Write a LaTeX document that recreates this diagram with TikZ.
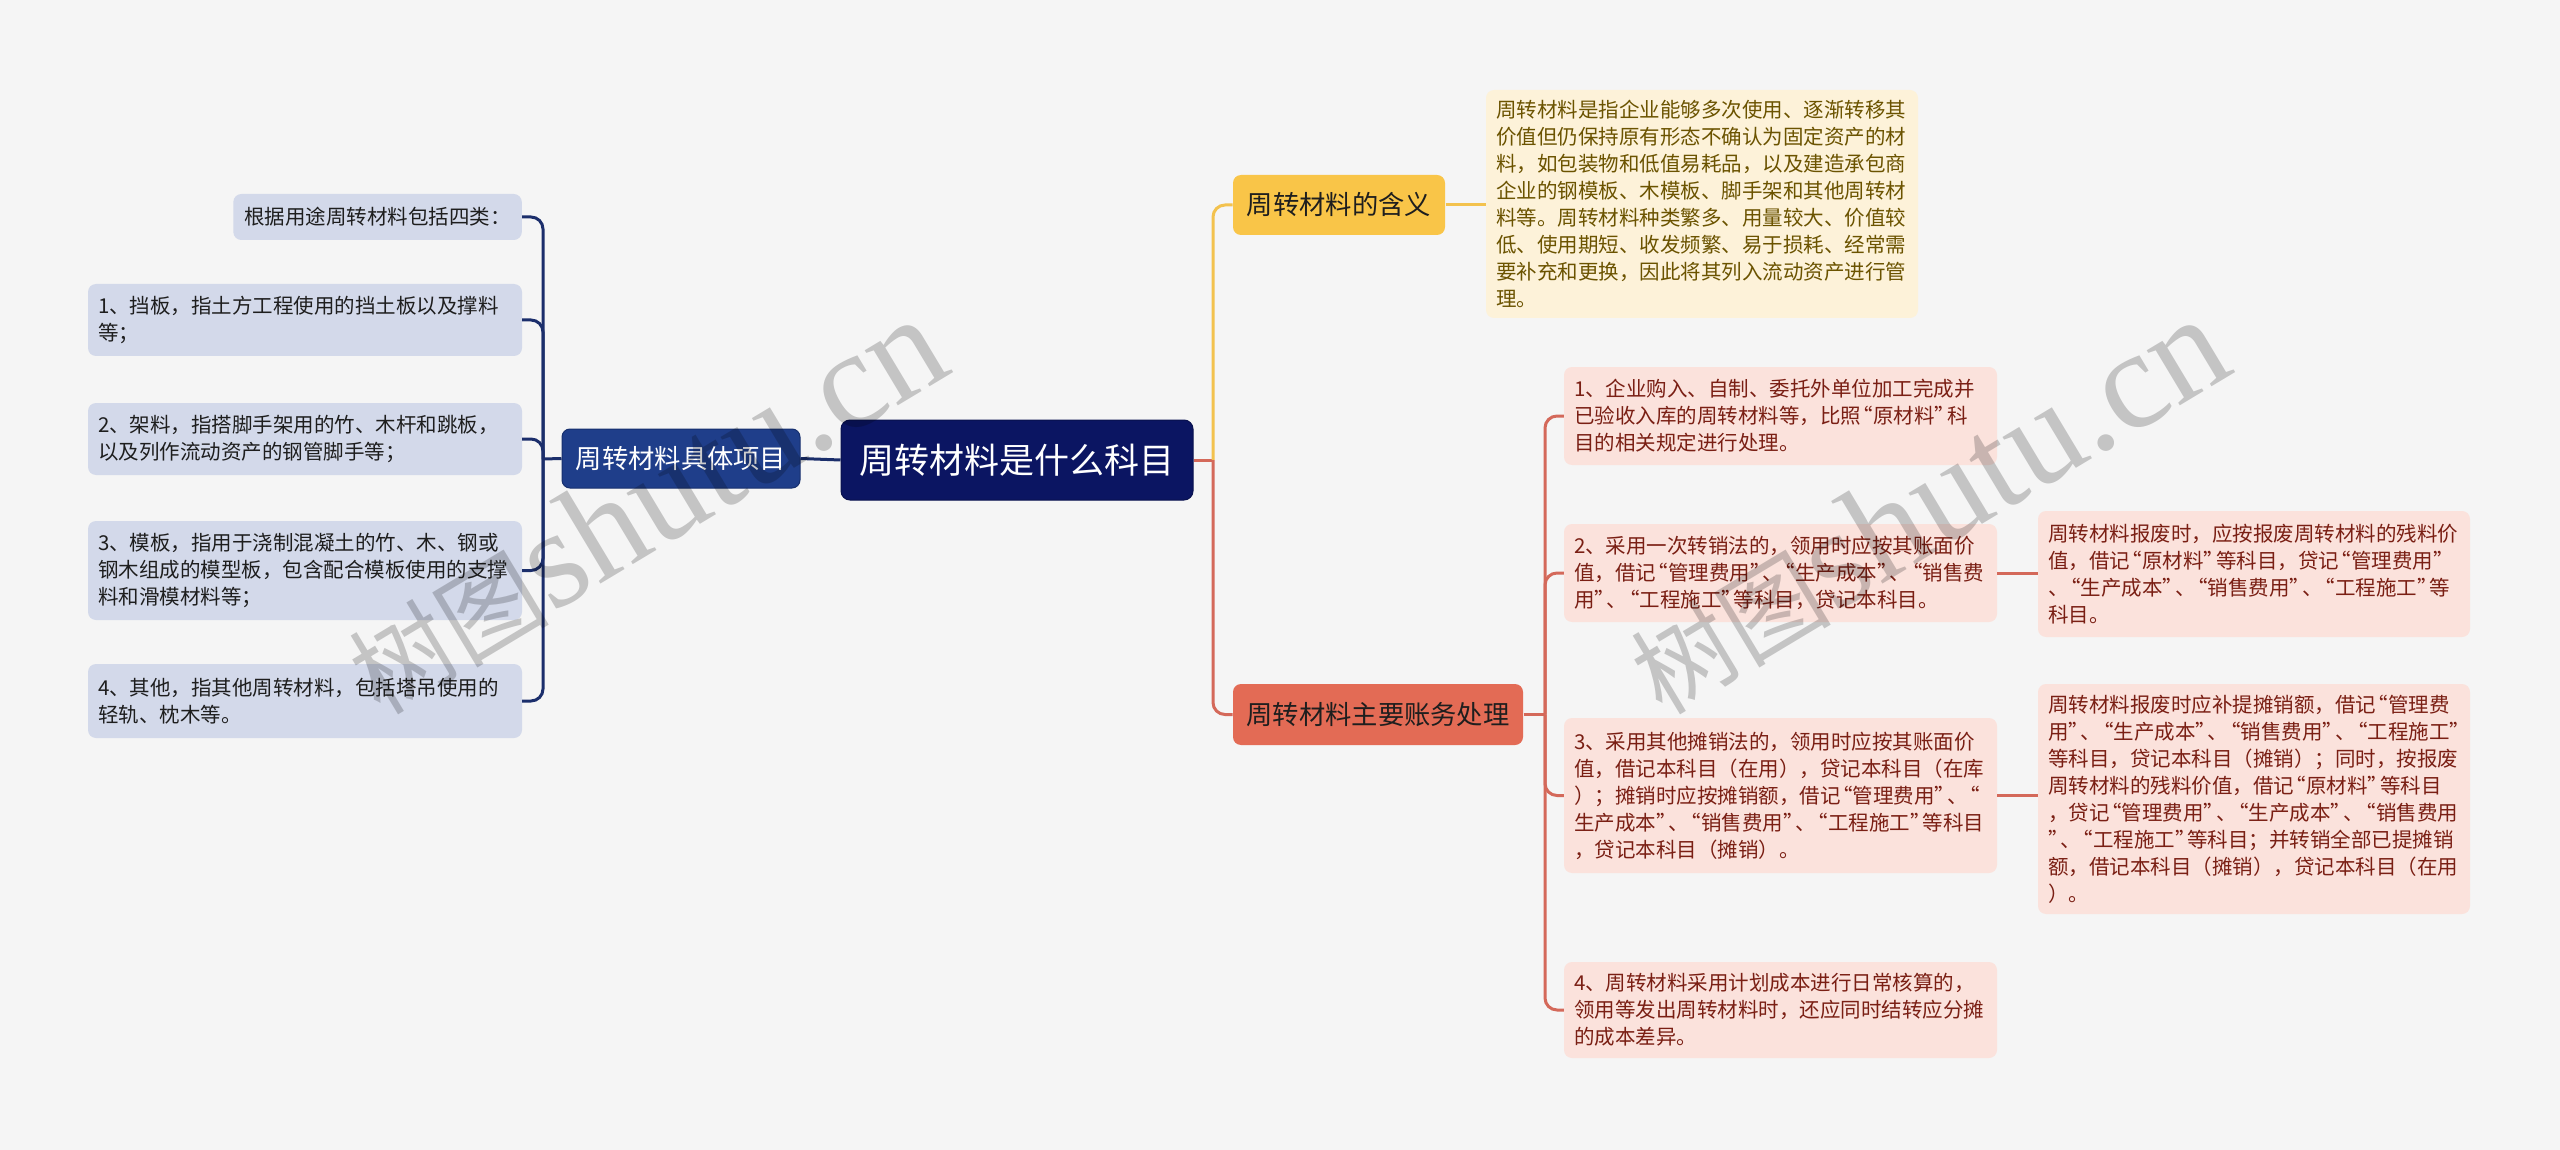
\documentclass[tikz,border=0pt]{standalone}
\usepackage{fontspec}
\setmainfont{Noto Sans CJK SC}
\newfontfamily\wmlatin{Liberation Serif}
\newfontfamily\wmcjk{Noto Sans CJK SC}
\usetikzlibrary{positioning}
\definecolor{bgc}{HTML}{F5F5F5}
\definecolor{rootc}{HTML}{0B1562}
\definecolor{subc}{HTML}{1F3E8A}
\definecolor{subborder}{HTML}{17306E}
\definecolor{navyline}{HTML}{1B2E6B}
\definecolor{lfill}{HTML}{D3D9EA}
\definecolor{ltext}{HTML}{1E1E1E}
\definecolor{yfill}{HTML}{F9C548}
\definecolor{yline}{HTML}{F3C24E}
\definecolor{dfill}{HTML}{FDF2D9}
\definecolor{dtext}{HTML}{6B5300}
\definecolor{rfill}{HTML}{E36B55}
\definecolor{rline}{HTML}{D4695A}
\definecolor{rlfill}{HTML}{FBE2DC}
\definecolor{rtext}{HTML}{7A1F14}
\newcommand{\qo}{\makebox[0.6em][r]{“}}
\newcommand{\qc}{\makebox[0.6em][l]{”}}
\begin{document}
\begin{tikzpicture}[x=1pt,y=-1pt,
  rootbox/.style={rectangle, rounded corners=9, fill=rootc, draw=rootc!80!black, line width=1, text=white,
    font=\fontsize{35}{40}\selectfont, minimum width=352, minimum height=80, inner sep=0},
  subbox/.style={rectangle, rounded corners=8, line width=1, font=\fontsize{26.3}{30}\selectfont, inner sep=0},
  leafbox/.style={rectangle, rounded corners=8, font=\fontsize{20.5}{27}\selectfont, align=left,
    inner xsep=10, inner ysep=0},
  leafL/.style={leafbox, fill=lfill, text=ltext, text width=414},
  leafR/.style={leafbox, fill=rlfill, text=rtext, text width=413},
  descbox/.style={leafbox, fill=dfill, text=dtext, text width=412},
  navy/.style={draw=navyline, line width=3},
  yel/.style={draw=yline, line width=3},
  red/.style={draw=rline, line width=3},
  wm/.style={text=black, opacity=0.2, rotate=31}
]
\fill[bgc] (0,0) rectangle (2560,1150);
\useasboundingbox (0,0) rectangle (2560,1150);

% central and main branches
\node[rootbox] (root) at (1017,460) {周转材料是什么科目};
\node[subbox, fill=subc, draw=subborder, text=white, minimum width=238, minimum height=59] (items) at (681,458.5) {周转材料具体项目};
\node[subbox, fill=yfill, text=ltext, minimum width=212, minimum height=60] (mean) at (1339,205) {周转材料的含义};
\node[subbox, fill=rfill, text=ltext, minimum width=290, minimum height=61] (acct) at (1378,714.5) {周转材料主要账务处理};

% left leaves
\node[leafbox, fill=lfill, text=ltext, minimum height=46, anchor=east, inner xsep=11] (L0) at (522,217) {根据用途周转材料包括四类：};
\node[leafL, minimum height=72] (L1) at (305,320) {1、挡板，指土方工程使用的挡土板以及撑料\\等；};
\node[leafL, minimum height=72] (L2) at (305,439) {2、架料，指搭脚手架用的竹、木杆和跳板，\\以及列作流动资产的钢管脚手等；};
\node[leafL, minimum height=99] (L3) at (305,570.5) {3、模板，指用于浇制混凝土的竹、木、钢或\\钢木组成的模型板，包含配合模板使用的支撑\\料和滑模材料等；};
\node[leafL, minimum height=74] (L4) at (305,701) {4、其他，指其他周转材料，包括塔吊使用的\\轻轨、枕木等。};

% description
\node[descbox, minimum height=228] (desc) at (1702,204) {周转材料是指企业能够多次使用、逐渐转移其\\价值但仍保持原有形态不确认为固定资产的材\\料，如包装物和低值易耗品，以及建造承包商\\企业的钢模板、木模板、脚手架和其他周转材\\料等。周转材料种类繁多、用量较大、价值较\\低、使用期短、收发频繁、易于损耗、经常需\\要补充和更换，因此将其列入流动资产进行管\\理。};

% right leaves
\node[leafR, minimum height=98] (R1) at (1780.5,416) {1、企业购入、自制、委托外单位加工完成并\\已验收入库的周转材料等，比照\qo 原材料\qc 科\\目的相关规定进行处理。};
\node[leafR, minimum height=98] (R2) at (1780.5,573) {2、采用一次转销法的，领用时应按其账面价\\值，借记\qo 管理费用\qc 、\qo 生产成本\qc 、\qo 销售费\\用\qc 、\qo 工程施工\qc 等科目，贷记本科目。};
\node[leafR, minimum height=155] (R3) at (1780.5,795.5) {3、采用其他摊销法的，领用时应按其账面价\\值，借记本科目（在用），贷记本科目（在库\\）；摊销时应按摊销额，借记\qo 管理费用\qc 、\qo\\生产成本\qc 、\qo 销售费用\qc 、\qo 工程施工\qc 等科目\\，贷记本科目（摊销）。};
\node[leafR, minimum height=96] (R4) at (1780.5,1010) {4、周转材料采用计划成本进行日常核算的，\\领用等发出周转材料时，还应同时结转应分摊\\的成本差异。};
\node[leafR, text width=412, minimum height=126] (R2a) at (2254,574) {周转材料报废时，应按报废周转材料的残料价\\值，借记\qo 原材料\qc 等科目，贷记\qo 管理费用\qc\\、\qo 生产成本\qc 、\qo 销售费用\qc 、\qo 工程施工\qc 等\\科目。};
\node[leafR, text width=412, minimum height=230] (R3a) at (2254,799) {周转材料报废时应补提摊销额，借记\qo 管理费\\用\qc 、\qo 生产成本\qc 、\qo 销售费用\qc 、\qo 工程施工\qc\\等科目，贷记本科目（摊销）；同时，按报废\\周转材料的残料价值，借记\qo 原材料\qc 等科目\\，贷记\qo 管理费用\qc 、\qo 生产成本\qc 、\qo 销售费用\\\qc 、\qo 工程施工\qc 等科目；并转销全部已提摊销\\额，借记本科目（摊销），贷记本科目（在用\\）。};

% junction coordinates
\coordinate (lsp) at (543,459);
\coordinate (rsp) at (1213,460);
\coordinate (asp) at (1545,714.5);

% connectors
\begin{scope}[on background layer/.style={}]
\draw[navy] (root.west) -- (items.east);
\draw[navy] (items.west) -- (lsp);
\foreach \n in {L0,L1,L2,L3,L4} \draw[navy, rounded corners=12] (lsp) |- (\n.east);
\draw[red] (root.east) -- (rsp);
\draw[yel, rounded corners=12] (rsp) |- (mean.west);
\draw[red, rounded corners=12] (rsp) |- (acct.west);
\draw[yel] (mean.east) -- (mean.east -| desc.west);
\draw[red] (acct.east) -- (asp);
\foreach \n in {R1,R2,R3,R4} \draw[red, rounded corners=12] (asp) |- (\n.west);
\draw[red] (R2.east) -- (R2.east -| R2a.west);
\draw[red] (R3.east) -- (R3.east -| R3a.west);
\end{scope}

% watermarks
\node[wm] (wm1) at (645,506) {\wmcjk\fontsize{100}{100}\selectfont 树图\wmlatin\fontsize{140}{140}\selectfont shutu.cn};
\node[wm] (wm2) at (1927,506) {\wmcjk\fontsize{100}{100}\selectfont 树图\wmlatin\fontsize{140}{140}\selectfont shutu.cn};
\end{tikzpicture}
\end{document}
